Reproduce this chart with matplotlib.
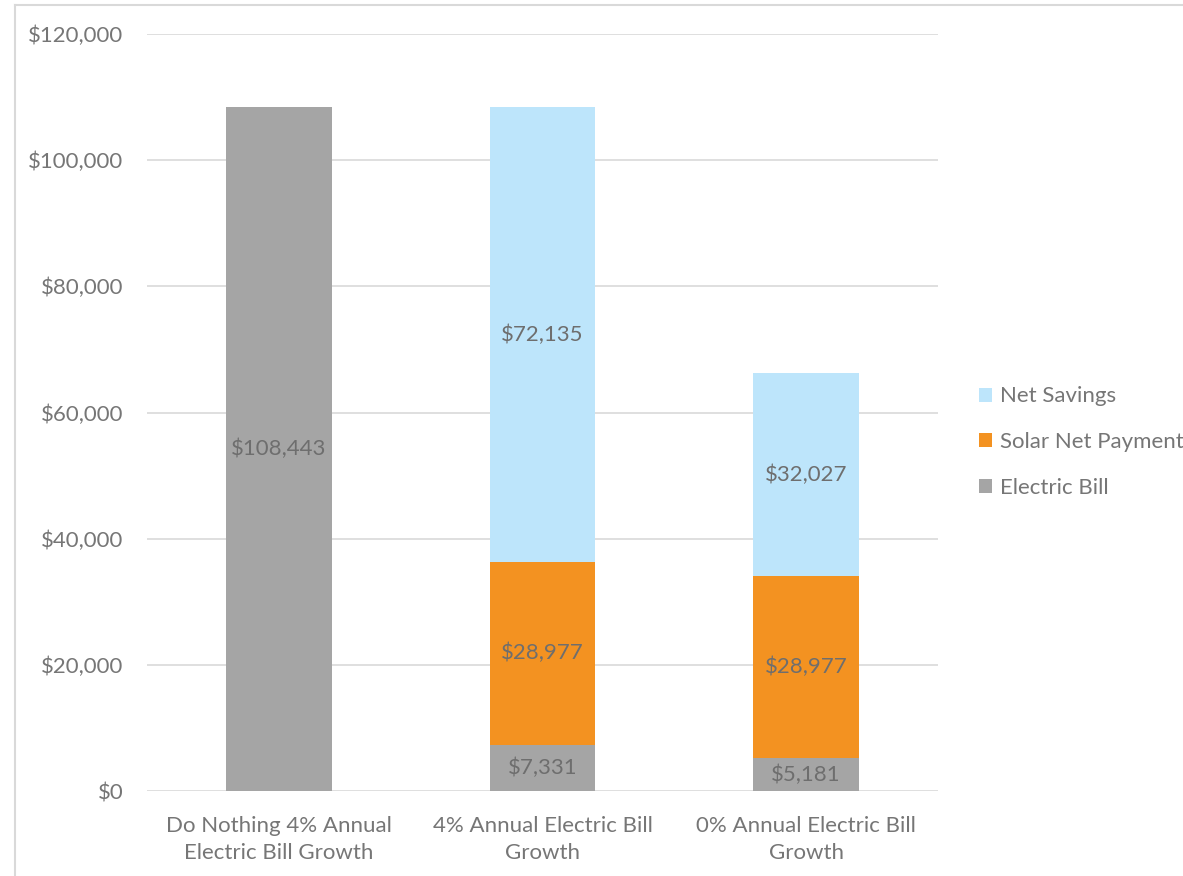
import matplotlib
matplotlib.use("Agg")
import matplotlib.pyplot as plt
from matplotlib.lines import Line2D
from matplotlib.ticker import FuncFormatter, MultipleLocator

plt.rcParams['font.family'] = ['Lato', 'DejaVu Sans']

categories = ["Do Nothing 4% Annual\nElectric Bill Growth",
              "4% Annual Electric Bill\nGrowth",
              "0% Annual Electric Bill\nGrowth"]
electric_bill = [108443, 7331, 5181]
solar_net_payment = [0, 28977, 28977]
net_savings = [0, 72135, 32027]

series = [("Electric Bill", electric_bill, "#A5A5A5"),
          ("Solar Net Payment", solar_net_payment, "#F39221"),
          ("Net Savings", net_savings, "#BDE5FB")]

text_color = "#767676"
label_color = "#6E6E6E"

fig = plt.figure(figsize=(11.83, 8.76), dpi=100)
ax = fig.add_axes([147/1183, 1 - 791/876, (938-147)/1183, (791-34)/876])

x = list(range(len(categories)))
bottoms = [0] * len(categories)
handles = {}
for name, vals, color in series:
    bars = ax.bar(x, vals, bottom=bottoms, width=0.4, color=color, label=name, zorder=2)
    handles[name] = bars
    for xi, v, b in zip(x, vals, bottoms):
        if v > 0:
            ax.text(xi, b + v / 2, f"${v:,.0f}", ha='center', va='center',
                    fontsize=16, color=label_color, zorder=3)
    bottoms = [b + v for b, v in zip(bottoms, vals)]

ax.set_xlim(-0.5, len(categories) - 0.5)
ax.set_ylim(0, 120000)
ax.yaxis.set_major_locator(MultipleLocator(20000))
ax.yaxis.set_major_formatter(FuncFormatter(lambda v, p: f"${v:,.0f}"))
ax.grid(axis='y', color="#D9D9D9", linewidth=1.2, zorder=0)
ax.set_axisbelow(True)
for s in ax.spines.values():
    s.set_visible(False)
ax.tick_params(axis='both', length=0, labelsize=16, colors=text_color)
ax.tick_params(axis='y', pad=17)
ax.tick_params(axis='x', pad=18)
ax.set_xticks(x)
ax.set_xticklabels(categories, linespacing=1.45)

order = ["Net Savings", "Solar Net Payment", "Electric Bill"]
leg = fig.legend([handles[n] for n in order], order,
                 loc='center left', bbox_to_anchor=(968/1183, 1 - 442/876),
                 frameon=False, fontsize=16, handlelength=0.6, handleheight=0.6,
                 handletextpad=0.35, labelspacing=1.15, labelcolor=text_color,
                 borderpad=0)

# outer border (left and top)
fig.add_artist(Line2D([15/1183, 15/1183], [0, 1 - 5/876], transform=fig.transFigure,
                      color="#D9D9D9", linewidth=1.5))
fig.add_artist(Line2D([15/1183, 1], [1 - 5/876, 1 - 5/876], transform=fig.transFigure,
                      color="#D9D9D9", linewidth=1.5))

fig.savefig("out.png", dpi=100)
